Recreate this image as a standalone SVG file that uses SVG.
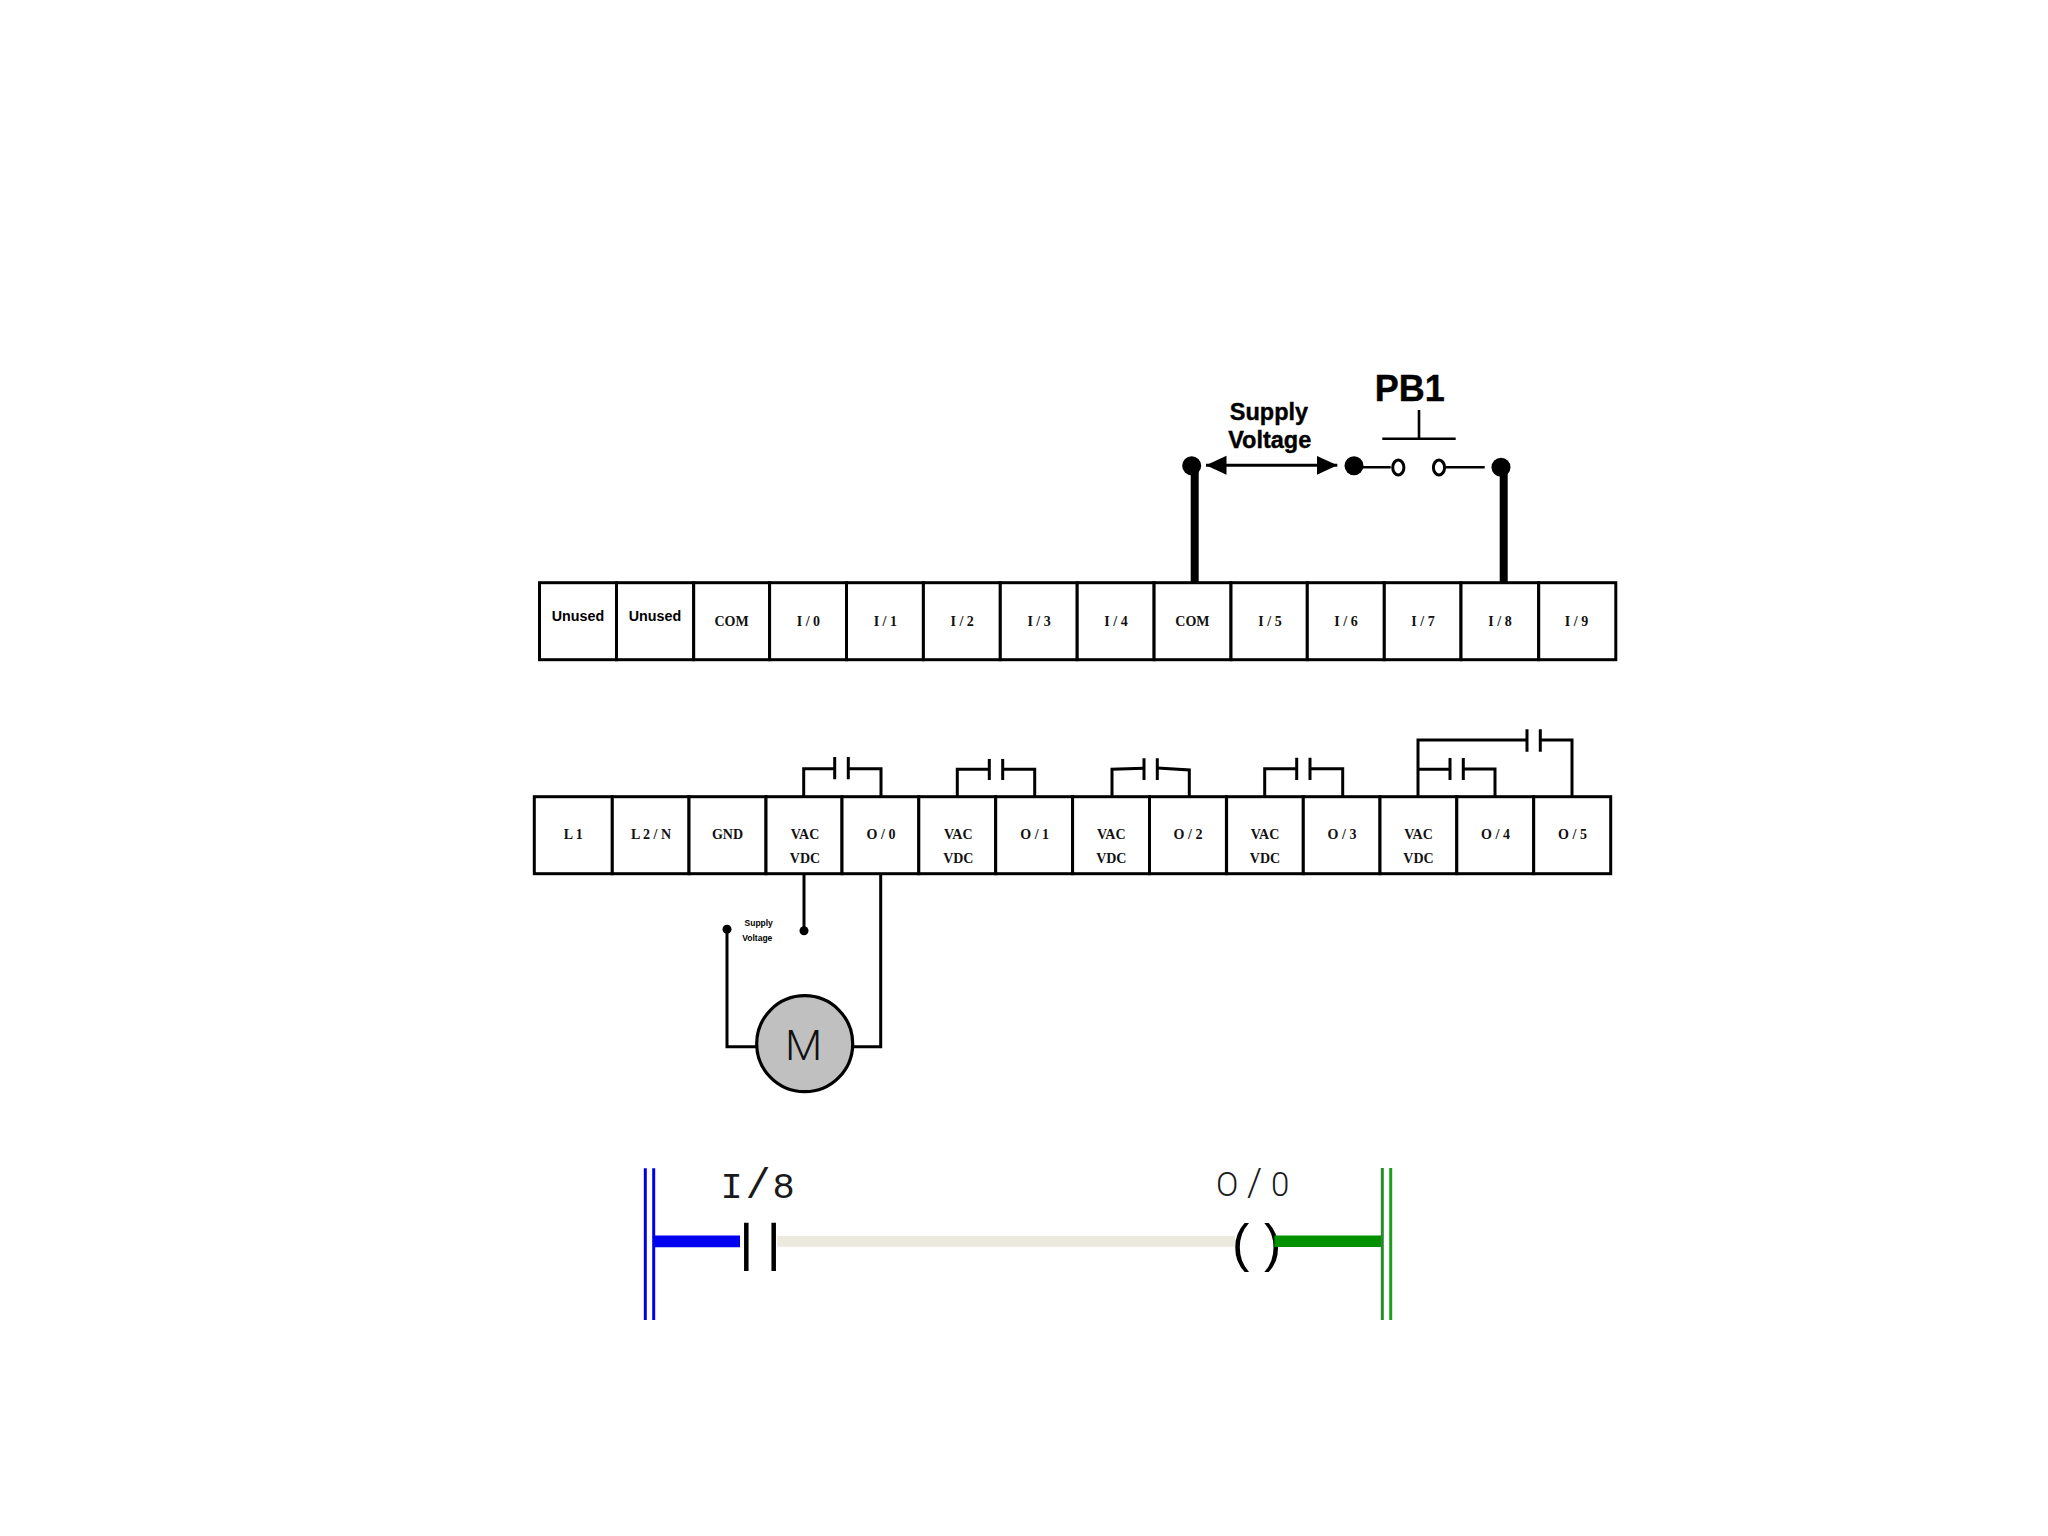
<svg xmlns="http://www.w3.org/2000/svg" width="2048" height="1536" viewBox="0 0 2048 1536">
<style>
.cell{fill:#fff;stroke:#000;stroke-width:3}
.t{font-family:"Liberation Serif",serif;font-weight:700;font-size:14px;text-anchor:middle;fill:#111}
.s{font-family:"Liberation Sans",sans-serif;font-weight:700;text-anchor:middle;fill:#000}
.h{stroke:#000;stroke-width:.4}
.u{font-size:14.3px}
.w{fill:none;stroke:#000;stroke-width:3}
.thick{fill:none;stroke:#000;stroke-width:8}
.thin{fill:none;stroke:#000;stroke-width:2.6}
.plate{fill:none;stroke:#000;stroke-width:3}
.dot{fill:#000}
.lad{font-family:"Liberation Mono",monospace;font-size:37px;font-weight:400;fill:#1a1a1a}
</style>
<defs>
<marker id="ah" markerUnits="userSpaceOnUse" markerWidth="21" markerHeight="20" refX="20.5" refY="10" orient="auto-start-reverse"><path d="M0 0.5L20.5 10L0 19.5Z" fill="#000"/></marker>
</defs>
<rect width="2048" height="1536" fill="#fff"/>
<g id="input-row">
<g id="in-unused-1"><rect class="cell" x="539.5" y="582.7" width="77" height="77"/><text class="s u" x="578" y="620.7">Unused</text></g>
<g id="in-unused-2"><rect class="cell" x="616.5" y="582.7" width="77.2" height="77"/><text class="s u" x="655" y="620.7">Unused</text></g>
<g id="in-com-1"><rect class="cell" x="693.7" y="582.7" width="75.9" height="77"/><text class="t" x="731.5" y="626">COM</text></g>
<g id="in-0"><rect class="cell" x="769.6" y="582.7" width="76.9" height="77"/><text class="t" x="808.4" y="626">I / 0</text></g>
<g id="in-1"><rect class="cell" x="846.5" y="582.7" width="76.9" height="77"/><text class="t" x="885.3" y="626">I / 1</text></g>
<g id="in-2"><rect class="cell" x="923.4" y="582.7" width="76.9" height="77"/><text class="t" x="962.2" y="626">I / 2</text></g>
<g id="in-3"><rect class="cell" x="1000.3" y="582.7" width="76.9" height="77"/><text class="t" x="1039.1" y="626">I / 3</text></g>
<g id="in-4"><rect class="cell" x="1077.2" y="582.7" width="76.9" height="77"/><text class="t" x="1116" y="626">I / 4</text></g>
<g id="in-com-2"><rect class="cell" x="1154.1" y="582.7" width="76.9" height="77"/><text class="t" x="1192.4" y="626">COM</text></g>
<g id="in-5"><rect class="cell" x="1231" y="582.7" width="76.3" height="77"/><text class="t" x="1270" y="626">I / 5</text></g>
<g id="in-6"><rect class="cell" x="1307.3" y="582.7" width="77" height="77"/><text class="t" x="1346" y="626">I / 6</text></g>
<g id="in-7"><rect class="cell" x="1384.3" y="582.7" width="76.7" height="77"/><text class="t" x="1423" y="626">I / 7</text></g>
<g id="in-8"><rect class="cell" x="1461" y="582.7" width="77.7" height="77"/><text class="t" x="1500" y="626">I / 8</text></g>
<g id="in-9"><rect class="cell" x="1538.7" y="582.7" width="77.1" height="77"/><text class="t" x="1576.5" y="626">I / 9</text></g>
</g>
<g id="output-row">
<g id="out-l1"><rect class="cell" x="534.3" y="796.7" width="78" height="77"/><text class="t" x="573.3" y="839.3">L 1</text></g>
<g id="out-l2"><rect class="cell" x="612.3" y="796.7" width="76.7" height="77"/><text class="t" x="651" y="839.3">L 2 / N</text></g>
<g id="out-gnd"><rect class="cell" x="689" y="796.7" width="77" height="77"/><text class="t" x="727.5" y="839.3">GND</text></g>
<g id="out-vac-0"><rect class="cell" x="766" y="796.7" width="76" height="77"/><text class="t" x="805" y="839.3">VAC</text><text class="t" x="805" y="862.7">VDC</text></g>
<g id="out-0"><rect class="cell" x="842" y="796.7" width="76.8" height="77"/><text class="t" x="881" y="839.3">O / 0</text></g>
<g id="out-vac-1"><rect class="cell" x="918.8" y="796.7" width="76.9" height="77"/><text class="t" x="958.3" y="839.3">VAC</text><text class="t" x="958.3" y="862.7">VDC</text></g>
<g id="out-1"><rect class="cell" x="995.7" y="796.7" width="76.9" height="77"/><text class="t" x="1034.7" y="839.3">O / 1</text></g>
<g id="out-vac-2"><rect class="cell" x="1072.6" y="796.7" width="76.9" height="77"/><text class="t" x="1111.3" y="839.3">VAC</text><text class="t" x="1111.3" y="862.7">VDC</text></g>
<g id="out-2"><rect class="cell" x="1149.5" y="796.7" width="76.9" height="77"/><text class="t" x="1188" y="839.3">O / 2</text></g>
<g id="out-vac-3"><rect class="cell" x="1226.6" y="796.7" width="76.7" height="77"/><text class="t" x="1265" y="839.3">VAC</text><text class="t" x="1265" y="862.7">VDC</text></g>
<g id="out-3"><rect class="cell" x="1303.3" y="796.7" width="76.7" height="77"/><text class="t" x="1342" y="839.3">O / 3</text></g>
<g id="out-vac-4"><rect class="cell" x="1380" y="796.7" width="76.8" height="77"/><text class="t" x="1418.5" y="839.3">VAC</text><text class="t" x="1418.5" y="862.7">VDC</text></g>
<g id="out-4"><rect class="cell" x="1456.8" y="796.7" width="76.9" height="77"/><text class="t" x="1495.5" y="839.3">O / 4</text></g>
<g id="out-5"><rect class="cell" x="1533.7" y="796.7" width="77" height="77"/><text class="t" x="1572.5" y="839.3">O / 5</text></g>
</g>
<g id="connectors">
<path class="thick" d="M1194.7 466V582"/>
<path class="thick" d="M1503.7 467V582"/>
<path class="w" d="M1206 465.3H1337.3" marker-start="url(#ah)" marker-end="url(#ah)"/>
<path class="thin" d="M1354 467.3H1390.7"/>
<path class="thin" d="M1446 467.3H1484.7"/>
<path class="thin" d="M1419 410V438.7M1382.3 438.7H1455.7"/>
<path class="w" d="M803.7 796V768.7H834.7M848.3 768.7H881V796"/>
<path class="plate" d="M834.7 757V779.3M848.3 757V779.3"/>
<path class="w" d="M957.3 796V769.3H989.3M1002.7 769.3H1034.7V796"/>
<path class="plate" d="M989.3 759V780M1002.7 759V780"/>
<path class="w" d="M1112 796V769.3L1144 768.3M1157.3 768L1189.3 770V796"/>
<path class="plate" d="M1144 758.3V780M1157.3 758.3V780"/>
<path class="w" d="M1264.7 796V768.7H1296.7M1310 768.7H1342.7V796"/>
<path class="plate" d="M1296.7 757.7V780M1310 757.7V780"/>
<path class="w" d="M1418 796V740H1527M1540.3 740H1572V798"/>
<path class="plate" d="M1527 729.3V751.7M1540.3 729.3V751.7"/>
<path class="w" d="M1418 769.3H1450M1463.3 769H1495V796"/>
<path class="plate" d="M1450 758V780M1463.3 758V780"/>
<path class="w" d="M804 874V930"/>
<path class="w" d="M880.7 874V1046.7H853"/>
<path class="w" d="M727 930V1046.7H756"/>
<path d="M653 1241.3H740" fill="none" stroke="#0000f0" stroke-width="11.7"/>
<path d="M777.3 1241.3H1235" fill="none" stroke="#ece9df" stroke-width="10.7"/>
</g>
<g id="terminal-com"><circle class="dot" cx="1191.7" cy="465.7" r="9.5"/></g>
<g id="terminal-pb-left"><circle class="dot" cx="1354" cy="465.7" r="9.5"/></g>
<g id="terminal-pb-right"><circle class="dot" cx="1501" cy="467.3" r="9.5"/></g>
<g id="pb1">
<text class="s h" x="1409.7" y="400.7" font-size="36">PB1</text>
<ellipse cx="1398.3" cy="467.5" rx="5.6" ry="7.4" fill="#fff" stroke="#000" stroke-width="3"/>
<ellipse cx="1439" cy="467.5" rx="5.6" ry="7.4" fill="#fff" stroke="#000" stroke-width="3"/>
</g>
<g id="supply-label"><text class="s h" x="1269" y="419.8" font-size="23.5">Supply</text><text class="s h" x="1269.7" y="447.8" font-size="23.5">Voltage</text></g>
<g id="motor-supply">
<circle class="dot" cx="804" cy="930.7" r="4.5"/>
<circle class="dot" cx="727" cy="929.3" r="4.5"/>
<text class="s" x="758.7" y="925.7" font-size="8.5">Supply</text>
<text class="s" x="757.3" y="941" font-size="8.5">Voltage</text>
</g>
<g id="motor">
<circle cx="804.7" cy="1043.7" r="48" fill="#c0c0c0" stroke="#000" stroke-width="3.2"/>
<text x="803.5" y="1060" font-family="Roboto,sans-serif" font-weight="300" font-size="43" text-anchor="middle" fill="#111">M</text>
</g>
<g id="left-rail">
<path d="M645.3 1168.3V1320M653.7 1168.3V1320" fill="none" stroke="#0000e6" stroke-width="3"/>
</g>
<g id="contact-i8">
<text class="lad" x="720.5 745.4 772.5" y="1198.3">I<tspan font-size="42">/</tspan>8</text>
<path d="M746.3 1222.7V1271M773.7 1222.7V1271" fill="none" stroke="#000" stroke-width="4.5"/>
</g>
<g id="coil-o0">
<text x="1216 1247 1271" y="1195.5" font-family="Roboto,sans-serif" font-weight="300" font-size="33" fill="#1a1a1a">O<tspan font-size="38">/</tspan>0</text>
<text x="1232 1264" y="1260.8" font-family="Liberation Sans,sans-serif" font-size="52" fill="#000">()</text>
</g>
<g id="right-rail">
<path d="M1274.3 1241.3H1382.3" fill="none" stroke="#009000" stroke-width="11.5"/>
<path d="M1382.3 1168V1320" fill="none" stroke="#2a8a2a" stroke-width="3"/>
<path d="M1390.7 1168V1320" fill="none" stroke="#1ba01b" stroke-width="3"/>
</g>
</svg>
